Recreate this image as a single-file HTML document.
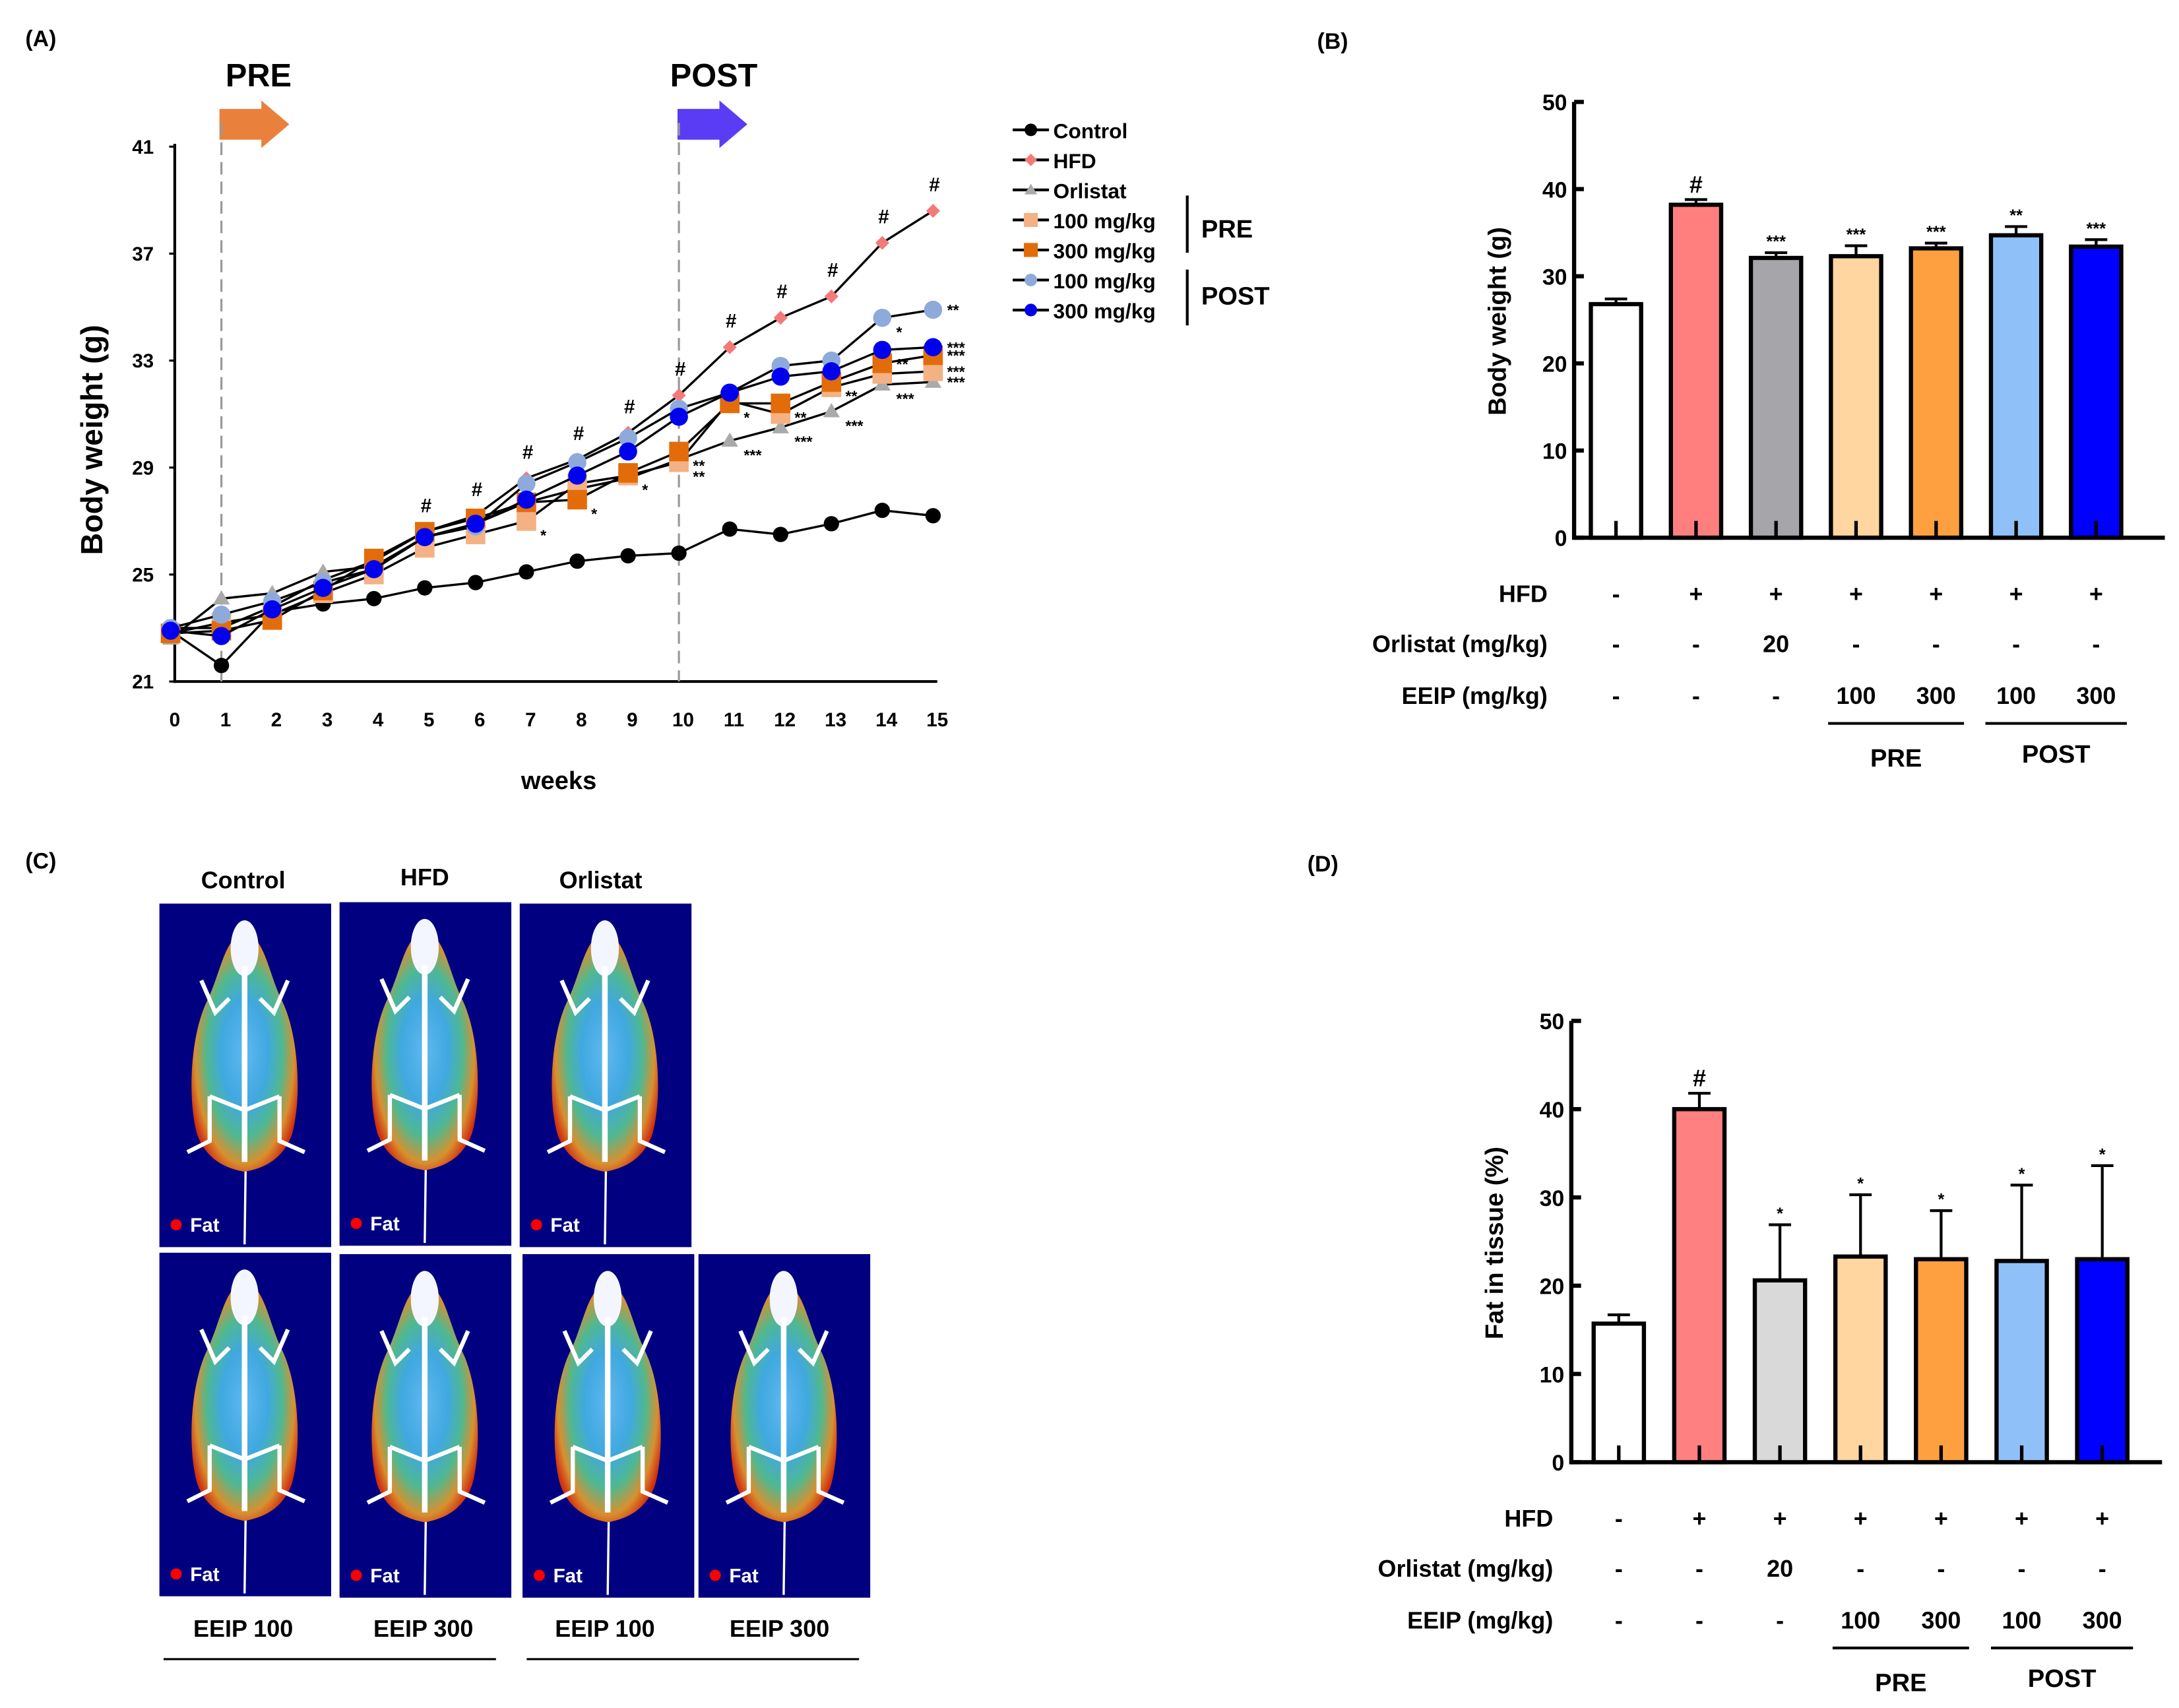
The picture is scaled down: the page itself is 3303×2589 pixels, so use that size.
<!DOCTYPE html>
<html><head><meta charset="utf-8">
<style>
html,body{margin:0;padding:0;background:#fff;}
svg{display:block;font-family:"Liberation Sans",Arial,sans-serif;}
</style></head>
<body>
<svg id="fig" width="3303" height="2589" viewBox="0 0 1560 1223" xmlns="http://www.w3.org/2000/svg">
<defs>
<radialGradient id="fatg" cx="50%" cy="50%" r="55%">
<stop offset="0" stop-color="#60b8f0"/><stop offset="0.4" stop-color="#40a8e0"/><stop offset="0.65" stop-color="#50b890"/><stop offset="0.85" stop-color="#d89030"/><stop offset="1" stop-color="#d03010"/>
</radialGradient>
<g id="mouse">
<rect x="0" y="0" width="123" height="246" fill="#000080"/>
<path d="M61,244 L62,170" stroke="#fff" stroke-width="1.6" fill="none"/>
<path d="M61,22 C75,22 78,50 88,70 C100,95 102,140 95,165 C88,185 72,190 61,192 C50,190 34,185 27,165 C20,140 22,95 34,70 C44,50 47,22 61,22 Z" fill="url(#fatg)"/>
<ellipse cx="61" cy="32" rx="10" ry="20" fill="#f4f6ff"/>
<path d="M61,45 L61,185" stroke="#fff" stroke-width="4"/>
<path d="M30,55 L40,78 L50,68 M92,55 L82,78 L72,68" stroke="#fff" stroke-width="3" fill="none"/>
<path d="M36,138 L61,148 L86,138 M36,138 L36,170 L20,178 M86,138 L86,170 L104,178" stroke="#fff" stroke-width="3" fill="none"/>
<circle cx="12" cy="230" r="4" fill="#ff0000"/>
<text x="22" y="235" font-size="14" fill="#fff" font-weight="bold">Fat</text>
</g>
</defs>

<text x="18" y="33" font-size="16" font-weight="bold">(A)</text>
<text x="943" y="35" font-size="16" font-weight="bold">(B)</text>
<text x="18" y="622" font-size="16" font-weight="bold">(C)</text>
<text x="936" y="624" font-size="16" font-weight="bold">(D)</text>

<g id="panelA">
<text x="185" y="62" font-size="23" font-weight="bold" text-anchor="middle">PRE</text>
<path d="M157,78 L187,78 L187,72 L207,89 L187,106 L187,100 L157,100 Z" fill="#e9813c"/>
<text x="511" y="62" font-size="23" font-weight="bold" text-anchor="middle">POST</text>
<path d="M485,78 L515,78 L515,72 L535,89 L515,106 L515,100 L485,100 Z" fill="#5a3cf5"/>
<text x="400" y="565" font-size="18" font-weight="bold" text-anchor="middle">weeks</text>
<text transform="translate(73,315) rotate(-90)" font-size="22" font-weight="bold" text-anchor="middle">Body weight (g)</text>
</g>
<g id="panelB">
<text transform="translate(1078,230) rotate(-90)" font-size="18" font-weight="bold" text-anchor="middle">Body weight (g)</text>
</g>
<g id="panelD">
<text transform="translate(1076,890) rotate(-90)" font-size="18" font-weight="bold" text-anchor="middle">Fat in tissue (%)</text>
</g>

<g id="panelC">
<text x="174" y="636" font-size="17" font-weight="bold" text-anchor="middle">Control</text>
<text x="304" y="634" font-size="17" font-weight="bold" text-anchor="middle">HFD</text>
<text x="430" y="636" font-size="17" font-weight="bold" text-anchor="middle">Orlistat</text>
<use href="#mouse" x="114" y="647"/>
<use href="#mouse" x="243" y="646"/>
<use href="#mouse" x="372" y="647"/>
<use href="#mouse" x="114" y="897"/>
<use href="#mouse" x="243" y="898"/>
<use href="#mouse" x="374" y="898"/>
<use href="#mouse" x="500" y="898"/>
<text x="174" y="1172" font-size="17" font-weight="bold" text-anchor="middle">EEIP 100</text>
<text x="303" y="1172" font-size="17" font-weight="bold" text-anchor="middle">EEIP 300</text>
<text x="433" y="1172" font-size="17" font-weight="bold" text-anchor="middle">EEIP 100</text>
<text x="558" y="1172" font-size="17" font-weight="bold" text-anchor="middle">EEIP 300</text>
<line x1="117" y1="1188" x2="355" y2="1188" stroke="#000" stroke-width="1.5"/>
<line x1="377" y1="1188" x2="615" y2="1188" stroke="#000" stroke-width="1.5"/>
</g>
</svg>
<script>
const NS="http://www.w3.org/2000/svg";
const weeks=[0,1,2,3,4,5,6,7,8,9,10,11,12,13,14,15];
const yTicksA=[21,25,29,33,37,41];
const controlW=[22.9,21.6,23.6,23.9,24.1,24.5,24.7,25.1,25.5,25.7,25.8,26.7,26.5,26.9,27.4,27.2];
const hfdW=[23.0,23.0,23.8,24.8,25.5,26.6,27.2,28.6,29.3,30.3,31.7,33.5,34.6,35.4,37.4,38.6];
const orlistatW=[22.6,24.1,24.3,25.1,25.3,26.4,26.9,27.7,28.2,28.6,29.3,30.0,30.5,31.1,32.1,32.2];
const pre100W=[22.8,23.2,23.5,24.3,25.0,26.0,26.5,27.0,28.4,28.7,29.2,31.5,31.0,32.0,32.5,32.6];
const pre300W=[22.8,22.9,23.3,24.4,25.6,26.6,27.1,27.7,27.8,28.8,29.6,31.4,31.4,32.2,32.9,33.2];
const post100W=[23.0,23.5,24.0,24.7,25.2,26.4,26.8,28.4,29.2,30.1,31.2,31.8,32.8,33.0,34.6,34.9];
const post300W=[22.9,22.7,23.7,24.5,25.2,26.4,26.9,27.8,28.7,29.6,30.9,31.8,32.4,32.6,33.4,33.5];
const hashWeeks=[5,6,7,8,9,10,11,12,13,14,15];
const groupsB=["Control","HFD","Orlistat","PRE 100","PRE 300","POST 100","POST 300"];
const bwMeans=[26.8,38.2,32.1,32.3,33.2,34.7,33.4];
const bwErr=[0.6,0.6,0.6,1.2,0.6,1.0,0.8];
const bwSig=["","#","***","***","***","**","***"];
const yTicksB=[0,10,20,30,40,50];
const fatMeans=[15.7,40.0,20.6,23.3,23.0,22.8,23.0];
const fatErr=[1.0,1.8,6.3,7.0,5.5,8.6,10.6];
const fatSig=["","#","*","*","*","*","*"];
const hfdRow=["-","+","+","+","+","+","+"];
const orlRow=["-","-","20","-","-","-","-"];
const eeipRow=["-","-","-","100","300","100","300"];

function el(parent,tag,attrs,txt){const e=document.createElementNS(NS,tag);for(const k in attrs)e.setAttribute(k,attrs[k]);if(txt!==undefined)e.textContent=txt;parent.appendChild(e);return e;}

const A=document.getElementById("panelA");
const xA=w=>122+w*36.4;
const yA=v=>488-(v-21)*19.15;
let ax=el(A,"line",{x1:125,y1:103,x2:125,y2:489,stroke:"#000","stroke-width":2});
 
ax=el(A,"line",{x1:124,y1:488,x2:671,y2:488,stroke:"#000","stroke-width":2});
 
yTicksA.forEach(t=>{
 el(A,"line",{x1:121,y1:yA(t),x2:125,y2:yA(t),stroke:"#000","stroke-width":1.5});
 const tx=el(A,"text",{x:110,y:yA(t)+5,"font-size":14,"font-weight":"bold","text-anchor":"end"},t);
  
});
weeks.forEach(w=>{
 const tx=el(A,"text",{x:xA(w)+3,y:520,"font-size":14,"font-weight":"bold","text-anchor":"middle"},w);
  
});
[1,10].forEach(w=>{
 const d=el(A,"line",{x1:xA(w),y1:88,x2:xA(w),y2:488,stroke:"#999","stroke-width":1.5,"stroke-dasharray":"9,5"});
  
});
const seriesA=[
 {n:"post300",d:post300W,c:"#0000ee",m:"circle",s:6.5},
 {n:"post100",d:post100W,c:"#8eaadb",m:"circle",s:6.5},
 {n:"pre300",d:pre300W,c:"#e36c0a",m:"square",s:7},
 {n:"pre100",d:pre100W,c:"#f4b183",m:"square",s:7},
 {n:"orlistat",d:orlistatW,c:"#aaaaaa",m:"tri",s:6},
 {n:"hfd",d:hfdW,c:"#f47a7a",m:"diamond",s:5},
 {n:"control",d:controlW,c:"#000",m:"circle",s:5.5}
];
function marker(g,type,x,y,s,c){
 let e;
 if(type==="circle")e=el(g,"circle",{cx:x,cy:y,r:s,fill:c});
 else if(type==="square")e=el(g,"rect",{x:x-s,y:y-s,width:2*s,height:2*s,fill:c});
 else if(type==="tri")e=el(g,"polygon",{points:`${x},${y-s} ${x-s},${y+s*0.7} ${x+s},${y+s*0.7}`,fill:c});
 else e=el(g,"polygon",{points:`${x},${y-s} ${x+s},${y} ${x},${y+s} ${x-s},${y}`,fill:c});
 return e;
}
seriesA.slice().reverse().forEach(sr=>{
 const g=el(A,"g",{});
  
 const pl=el(g,"polyline",{points:sr.d.map((v,i)=>xA(weeks[i])+","+yA(v)).join(" "),fill:"none",stroke:"#000","stroke-width":1.6});
  
 sr.d.forEach((v,i)=>{const m=marker(g,sr.m,xA(weeks[i]),yA(v),sr.s,sr.c);
   });
});
hashWeeks.forEach(w=>{
 const t=el(A,"text",{x:xA(w)+1,y:yA(hfdW[w])-14,"font-size":14,"font-weight":"bold","text-anchor":"middle"},"#");
  
});
[[15,post100W,"**"],[15,post300W,"***"],[15,pre300W,"***"],[15,pre100W,"***"],[14,orlistatW,"***"],[15,orlistatW,"***"],[13,orlistatW,"***"],[12,orlistatW,"***"],[11,orlistatW,"***"],[10,pre100W,"**"],[9,pre100W,"*"],[8,pre300W,"*"],[7,pre100W,"*"],[12,pre300W,"**"],[13,pre300W,"**"],[14,post100W,"*"],[14,post300W,"**"],[11,pre300W,"*"],[10,pre300W,"**"]].forEach(([w,arr,s])=>{
 const t=el(A,"text",{x:xA(w)+10,y:yA(arr[w])+(w===15?4:14),"font-size":11,"font-weight":"bold"},s);
  
});
const legItems=[["Control","#000","circle"],["HFD","#f47a7a","diamond"],["Orlistat","#aaaaaa","tri"],["100 mg/kg","#f4b183","square"],["300 mg/kg","#e36c0a","square"],["100 mg/kg","#8eaadb","circle"],["300 mg/kg","#0000ee","circle"]];
legItems.forEach((it,i)=>{
 const y=93+i*21.5;
 const g=el(A,"g",{});
  
 el(g,"line",{x1:725,y1:y,x2:751,y2:y,stroke:"#000","stroke-width":2});
 marker(g,it[2],738,y,it[2]==="square"?5:4.5,it[1]);
 el(g,"text",{x:754,y:y+6,"font-size":15,"font-weight":"bold"},it[0]);
});
[[140,181,"PRE",170],[193,233,"POST",218]].forEach(([a,b,t,ty])=>{
 el(A,"line",{x1:850,y1:a,x2:850,y2:b,stroke:"#000","stroke-width":2});
 const tx=el(A,"text",{x:860,y:ty,"font-size":18,"font-weight":"bold"},t);
  
});

const barColorsB=["#ffffff","#ff7f7f","#a5a5aa","#ffd5a0","#ffa040","#90c0f8","#0000ff"];
const barColorsD=["#ffffff","#ff8080","#d9d9d9","#ffd5a0","#ffa040","#90c0f8","#0000ff"];
function barChart(gid,o){
 const G=document.getElementById(gid);
 const y=v=>o.y0-v*(o.y0-o.y50)/50;
 const x=i=>o.cx0+i*o.step;
 let a=el(G,"line",{x1:o.ax,y1:o.y50,x2:o.ax,y2:o.y0+1.5,stroke:"#000","stroke-width":3});
  
 a=el(G,"line",{x1:o.ax,y1:o.y0,x2:o.axEnd,y2:o.y0,stroke:"#000","stroke-width":3});
  
 yTicksB.forEach(t=>{
  el(G,"line",{x1:o.ax,y1:y(t),x2:o.ax+7,y2:y(t),stroke:"#000","stroke-width":3});
  const tx=el(G,"text",{x:o.ax-5,y:y(t)+6,"font-size":16,"font-weight":"bold","text-anchor":"end"},t);
   
 });
 o.means.forEach((m,i)=>{
  const cx=x(i),w=36;
  el(G,"line",{x1:cx,y1:y(m+o.err[i]),x2:cx,y2:y(m),stroke:"#000","stroke-width":2});
  el(G,"line",{x1:cx-8,y1:y(m+o.err[i]),x2:cx+8,y2:y(m+o.err[i]),stroke:"#000","stroke-width":2});
  const r=el(G,"rect",{x:cx-w/2,y:y(m),width:w,height:o.y0-y(m),fill:o.colors[i],stroke:"#000","stroke-width":3});
   
  el(G,"line",{x1:cx,y1:o.y0-12,x2:cx,y2:o.y0,stroke:"#000","stroke-width":2.5});
  if(o.sig[i]){const isH=o.sig[i]==="#";
   const t=el(G,"text",{x:cx,y:y(m+o.err[i])-(isH?5:4),"font-size":isH?17:12,"font-weight":"bold","text-anchor":"middle"},o.sig[i]);
    }
  [[hfdRow,o.r1],[orlRow,o.r2],[eeipRow,o.r3]].forEach(([row,ry])=>{
   const t=el(G,"text",{x:cx,y:ry,"font-size":17,"font-weight":"bold","text-anchor":"middle"},row[i]);
    });
 });
 [["HFD",o.r1],["Orlistat (mg/kg)",o.r2],["EEIP (mg/kg)",o.r3]].forEach(([t,ry])=>{
  const tx=el(G,"text",{x:o.lx,y:ry,"font-size":17,"font-weight":"bold","text-anchor":"end"},t);
   });
 el(G,"line",{x1:x(3)-20,y1:o.ly,x2:x(4)+20,y2:o.ly,stroke:"#000","stroke-width":2});
 el(G,"line",{x1:x(5)-22,y1:o.ly,x2:x(6)+22,y2:o.ly,stroke:"#000","stroke-width":2});
 let t=el(G,"text",{x:(x(3)+x(4))/2,y:o.ly+31,"font-size":18,"font-weight":"bold","text-anchor":"middle"},"PRE");
  
 t=el(G,"text",{x:(x(5)+x(6))/2,y:o.ly+28,"font-size":18,"font-weight":"bold","text-anchor":"middle"},"POST");
  
}
barChart("panelB",{ax:1127,axEnd:1550,y0:385,y50:73,cx0:1157,step:57.3,means:bwMeans,err:bwErr,sig:bwSig,colors:barColorsB,r1:431,r2:467,r3:504,lx:1108,ly:518});
barChart("panelD",{ax:1125,axEnd:1548,y0:1047,y50:731,cx0:1159,step:57.7,means:fatMeans,err:fatErr,sig:fatSig,colors:barColorsD,r1:1093,r2:1129,r3:1166,lx:1112,ly:1180});
</script>
</body></html>
